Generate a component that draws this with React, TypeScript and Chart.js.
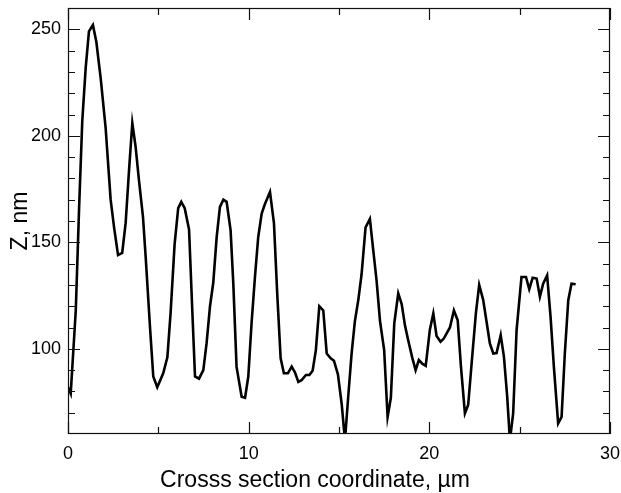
import React, { useEffect, useRef } from 'react';
import { Chart, registerables } from 'chart.js';

Chart.register(...registerables);

// Cross-section coordinate (µm)
const xs = [
  0.0, 0.15, 0.43, 0.61, 0.79, 0.98, 1.16, 1.38, 1.57, 1.81,
  2.08, 2.36, 2.55, 2.77, 3.0, 3.19, 3.38, 3.56, 3.74, 3.93,
  4.15, 4.3, 4.54, 4.72, 4.94, 5.27, 5.5, 5.68, 5.9, 6.1,
  6.27, 6.46, 6.7, 6.88, 7.03, 7.25, 7.49, 7.67, 7.86, 8.04,
  8.23, 8.41, 8.6, 8.78, 9.0, 9.15, 9.33, 9.61, 9.8, 9.98,
  10.16, 10.35, 10.53, 10.72, 10.9, 11.18, 11.4, 11.58, 11.77, 11.95,
  12.17, 12.38, 12.56, 12.75, 12.93, 13.17, 13.36, 13.54, 13.72, 13.91,
  14.13, 14.32, 14.54, 14.72, 14.94, 15.15, 15.33, 15.51, 15.7, 15.88,
  16.07, 16.25, 16.47, 16.71, 16.9, 17.08, 17.27, 17.5, 17.69, 17.87,
  18.06, 18.28, 18.47, 18.65, 18.83, 19.05, 19.24, 19.42, 19.61, 19.8,
  20.03, 20.22, 20.4, 20.62, 20.8, 21.14, 21.36, 21.57, 21.75, 21.97,
  22.15, 22.34, 22.58, 22.76, 22.98, 23.17, 23.35, 23.54, 23.72, 23.95,
  24.13, 24.31, 24.46, 24.64, 24.83, 25.1, 25.35, 25.53, 25.72, 25.94,
  26.12, 26.3, 26.52, 26.71, 26.9, 27.13, 27.32, 27.5, 27.69, 27.87,
  28.1,
];

// Height Z (nm)
const zs = [
  82, 79, 118, 165, 207, 232, 249, 252, 244, 227,
  204, 170, 157, 144, 145, 159, 184, 206, 195, 179,
  162, 143, 110, 87, 82, 88.5, 96, 117, 149, 166,
  169, 166, 156, 118, 87, 86, 90, 102.5, 120, 131,
  152.5, 166.6, 170, 169, 155.6, 130.6, 91.5, 77.5, 77, 87,
  112, 134, 152.5, 163.5, 168, 173.6, 159, 126, 95.5, 88.5,
  88.5, 91.6, 89, 84.5, 85.3, 87.7, 87.7, 89.7, 99.4, 120,
  118, 97.8, 95.5, 94.4, 88, 74, 57, 77.5, 98, 113,
  123, 135, 157, 161, 146, 132, 113, 99.4, 68, 77,
  112, 126, 121, 111, 104, 96, 90, 94.7, 93, 92,
  109, 116.6, 106, 103.3, 104.8, 110, 118, 113.4, 91.6, 69.7,
  73.6, 93, 117, 130, 123, 112.6, 102.5, 97.8, 98, 106.4,
  96.2, 77.5, 57, 69.7, 108.8, 133.7, 133.7, 128, 133.4, 133,
  124.4, 130.6, 134.5, 115, 90.8, 65, 68, 97.8, 122.8, 130.6,
  130.3,
];

const xMajorTicks = [0, 10, 20, 30];
const xMinorTicks = [5, 15, 25];
const yMajorTicks = [100, 150, 200, 250];
const yMinorTicks = [70, 80, 90, 110, 120, 130, 140, 160, 170, 180, 190, 210, 220, 230, 240];
const xTitle = 'Crosss section coordinate, \u00b5m';
const yTitle = 'Z, nm';

const FONT = '"Liberation Sans", Arial, Helvetica, sans-serif';

const framePlugin = {
  id: 'frameTicks',
  afterDraw(chart: any) {
    const { ctx, chartArea: a, scales } = chart;
    const x = scales.x;
    const y = scales.y;
    ctx.save();
    ctx.strokeStyle = '#111';
    ctx.lineWidth = 1.2;
    ctx.strokeRect(a.left + 0.5, a.top + 0.5, a.right - a.left - 1, a.bottom - a.top - 1);
    ctx.beginPath();
    const major = 12;
    const minor = 7;
    const xt = (v: number, len: number) => {
      const px = Math.round(x.getPixelForValue(v)) + 0.5;
      ctx.moveTo(px, a.bottom);
      ctx.lineTo(px, a.bottom - len);
      ctx.moveTo(px, a.top);
      ctx.lineTo(px, a.top + len);
    };
    const yt = (v: number, len: number) => {
      const py = Math.round(y.getPixelForValue(v)) + 0.5;
      ctx.moveTo(a.left, py);
      ctx.lineTo(a.left + len, py);
      ctx.moveTo(a.right, py);
      ctx.lineTo(a.right - len, py);
    };
    xMajorTicks.forEach((v) => xt(v, major));
    xMinorTicks.forEach((v) => xt(v, minor));
    yMajorTicks.forEach((v) => yt(v, major));
    yMinorTicks.forEach((v) => yt(v, minor));
    ctx.stroke();

    ctx.fillStyle = '#000';
    ctx.font = `23px ${FONT}`;
    ctx.textAlign = 'center';
    ctx.textBaseline = 'alphabetic';
    ctx.fillText(xTitle, 315, 487);
    ctx.translate(27, (a.top + a.bottom) / 2);
    ctx.rotate(-Math.PI / 2);
    ctx.fillText(yTitle, 0, 0);
    ctx.restore();
  },
};

export default function App() {
  const ref = useRef<HTMLCanvasElement | null>(null);

  useEffect(() => {
    if (!ref.current) return;
    const data = xs.map((v, i) => ({ x: v, y: zs[i] }));
    const chart = new Chart(ref.current, {
      type: 'line',
      data: {
        datasets: [
          {
            data,
            borderColor: '#000',
            borderWidth: 2.6,
            pointRadius: 0,
            tension: 0,
            fill: false,
          },
        ],
      },
      options: {
        animation: false,
        responsive: false,
        devicePixelRatio: 1,
        layout: { padding: { left: 0, top: 8, right: 11, bottom: 0 } },
        plugins: {
          legend: { display: false },
          tooltip: { enabled: false },
          title: { display: false },
        },
        scales: {
          x: {
            type: 'linear',
            min: 0,
            max: 30,
            grid: { display: false, drawTicks: false },
            border: { display: false },
            afterBuildTicks: (s: any) => {
              s.ticks = xMajorTicks.map((v) => ({ value: v }));
            },
            afterFit: (s: any) => {
              s.height = 59;
              s.paddingLeft = 0;
              s.paddingRight = 0;
            },
            ticks: {
              color: '#000',
              font: { family: FONT, size: 18 },
              padding: 9,
              maxRotation: 0,
              autoSkip: false,
            },
          },
          y: {
            type: 'linear',
            min: 60,
            max: 260,
            grid: { display: false, drawTicks: false },
            border: { display: false },
            afterBuildTicks: (s: any) => {
              s.ticks = yMajorTicks.map((v) => ({ value: v }));
            },
            afterFit: (s: any) => {
              s.width = 68;
              s.paddingTop = 0;
              s.paddingBottom = 0;
            },
            ticks: {
              color: '#000',
              font: { family: FONT, size: 18 },
              padding: 7,
              autoSkip: false,
            },
          },
        },
      },
      plugins: [framePlugin],
    });
    return () => chart.destroy();
  }, []);

  return (
    <div style={{ position: 'fixed', left: 0, top: 0, width: 621, height: 493, background: '#fff' }}>
      <canvas ref={ref} width={621} height={493} style={{ width: 621, height: 493, display: 'block' }} />
    </div>
  );
}
